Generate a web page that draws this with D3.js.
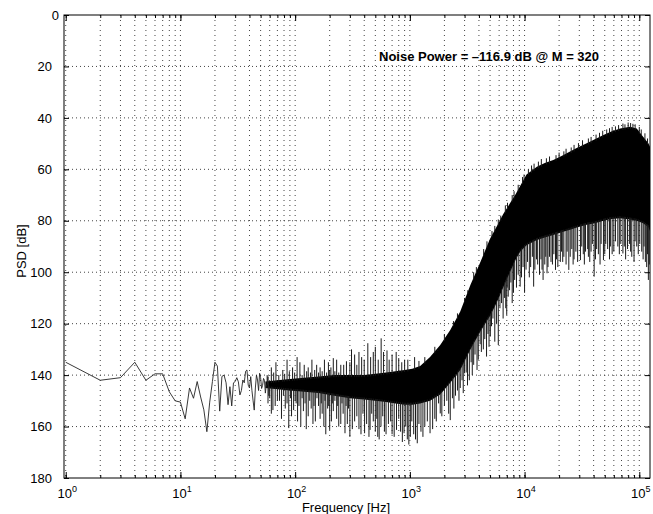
<!DOCTYPE html>
<html>
<head>
<meta charset="utf-8">
<script src="https://d3js.org/d3.v7.min.js"></script>
<style>
  body { margin: 0; background: #fff; }
  text { font-family: "Liberation Sans", Arial, Helvetica, sans-serif; }
</style>
</head>
<body>
<div id="chart-container"></div>
<script>
// y ticks (dB) and x range
var yTicks = [0, 20, 40, 60, 80, 100, 120, 140, 160, 180];
var xDomain = [0.966, 124000];

// low frequency bins, 1 Hz apart
var lowF = [1, 2, 3, 4, 5, 6, 7, 8, 9, 10,
    11, 12, 13, 14, 15, 16, 17, 18, 19, 20,
    21, 22, 23, 24, 25, 26, 27, 28, 29, 30,
    31, 32, 33, 34, 35, 36, 37, 38, 39, 40,
    41, 42, 43, 44, 45, 46, 47, 48, 49, 50,
    51, 52, 53, 54, 55, 56, 57, 58, 59, 60];
var lowPsd = [135, 142, 141, 135, 142, 139.5, 139.5, 146.5, 150, 150.5,
    157, 145, 149, 142.5, 148.5, 153.5, 162, 150.5, 142.5, 135,
    136.5, 154, 140.5, 140, 143, 151.5, 144.5, 152, 143, 142.5,
    141, 142.6, 147.7, 146, 141.9, 143, 138.5, 138, 143.9, 145,
    140.6, 146, 150, 153.6, 145, 140, 141.9, 146, 139.3, 141,
    145.2, 144, 141.3, 142, 147, 143.9, 144, 140.6, 148, 145];

// dense part: upper and lower edge of the black band
var bandF = [55, 70, 90, 120, 160, 220, 300, 400, 500, 620,
    750, 900, 1050, 1230, 1500, 1840, 2250, 2750, 3370, 4120,
    5000, 5700, 6500, 7460, 8400, 9150, 10400, 12800, 15000, 17800,
    21000, 24900, 29000, 34800, 41000, 48700, 57000, 68100, 83200, 95000,
    108000, 120000, 124000];
var bandHi = [142.5, 142, 141.5, 141, 140.5, 140, 140, 140, 139.5, 139,
    138.5, 138, 137.5, 136.5, 133, 128.3, 122.5, 115.3, 105, 96,
    87, 82.3, 77.5, 73.2, 69.5, 66.5, 62, 59, 57.5, 56.4,
    54.8, 53.1, 51.5, 49.9, 48.3, 46.7, 45.3, 44.1, 43.4, 44.1,
    47.3, 49.9, 51.2];
var bandLo = [145, 145.5, 146, 146.5, 147, 148, 149, 149.5, 150, 150.5,
    151, 151.5, 151.5, 151, 150, 147.5, 143, 138, 130, 123,
    117, 112, 106, 100, 95, 92, 89.5, 87.5, 86.5, 85.5,
    84.5, 83.5, 82.5, 81.5, 81, 80, 79.3, 79, 79.5, 80,
    81, 82.5, 84];

// spikes going down out of the band
var dipF = [58, 62, 64, 67, 73, 76, 82, 88, 93, 97,
    102, 105, 112, 118, 125, 130, 138, 143, 150, 160,
    165, 172, 178, 185, 192, 200, 207, 215, 230, 240,
    250, 262, 272, 285, 292, 300, 315, 330, 345, 360,
    375, 390, 403, 420, 440, 450, 465, 480, 500, 515,
    525, 540, 560, 580, 600, 620, 650, 680, 700, 730,
    765, 800, 830, 860, 890, 920, 950, 980, 1010, 1040,
    1080, 1120, 1160, 1200, 1250, 1300, 1350, 1420, 1500, 1580,
    1650, 1700, 1780, 1840, 1900, 2000, 2100, 2180, 2250, 2350,
    2420, 2500, 2600, 2680, 2750, 2850, 2920, 3000, 3100, 3180,
    3300, 3420, 3500, 3600, 3700, 3850, 3950, 4100, 4200, 4370,
    4500, 4660, 4800, 4900, 5030, 5150, 5300, 5500, 5700, 5900,
    6100, 6300, 6500, 6700, 6850, 6990, 7050, 7200, 7400, 7600,
    7800, 8000, 8200, 8500, 8800, 9150, 9400, 9700, 10000, 10300,
    10600, 11000, 11300, 11700, 12000, 12300, 12700, 13000, 13500, 13900,
    14200, 14500, 15000, 15300, 15700, 16000, 16500, 17000, 17500, 18000,
    18600, 19000, 19500, 20500, 21000, 21500, 22000, 23000, 23500, 24300,
    25000, 25800, 26500, 27000, 28000, 29000, 30700, 31500, 32500, 33200,
    34000, 35500, 36000, 37000, 38000, 39000, 40400, 41500, 42500, 44000,
    45500, 46500, 48700, 50000, 51000, 53000, 55000, 56000, 58000, 60000,
    62000, 65000, 67000, 69000, 72000, 74000, 76000, 79000, 82000, 84000,
    86000, 90000, 92000, 95000, 98000, 101000, 105000, 108000, 110000, 113000,
    116000, 118000, 120000, 122000,
    60, 70, 79, 85, 91, 100, 108, 115, 122, 134,
    146, 155, 169, 182, 196, 211, 222, 235, 256, 278];
var dipPsd = [151, 155, 153.6, 152, 150, 157, 153, 160.6, 156, 153.6,
    151, 158, 160, 154, 161, 156, 153, 159, 158, 152,
    157, 155, 160, 163, 153, 161.3, 158, 154, 157, 160,
    159, 155, 162.6, 159, 153, 164, 161, 158, 156, 161,
    163, 155, 162.6, 159, 164, 161.3, 155, 158, 162, 157,
    164, 165, 160, 156, 162, 163, 159, 158, 163, 164,
    161.3, 157, 162, 166, 162.6, 160, 165, 167, 164, 158,
    163, 165, 166.5, 159, 162, 164, 160, 158, 162.6, 161,
    157, 158, 151, 154.9, 156, 152, 150, 155, 157.5, 149,
    153, 148, 146, 150, 145, 142, 147, 139.3, 139, 144,
    142, 135, 140, 136, 132, 138, 134, 128, 131, 130,
    126, 132.8, 124, 129, 125, 121, 118, 127, 120, 128.3,
    114, 112, 118, 110, 114, 116.6, 106, 109.5, 107, 104,
    112, 108, 103, 106, 101, 105.6, 102, 98, 108, 99,
    96, 102, 98, 94, 105.6, 99, 95, 97, 101, 95,
    99, 103, 97, 94, 100.4, 98, 94, 96, 97, 93,
    99.1, 95, 98, 96, 92, 96, 94, 97, 92, 99.1,
    94, 91, 97, 95, 92, 96, 95.3, 90, 93, 97,
    92, 91, 94, 96, 92, 89, 101.7, 95, 91, 93,
    97, 89, 95.3, 93, 89, 91, 95, 90, 93, 92,
    88, 90, 93, 89, 92.7, 90, 95, 91, 89, 92,
    94, 96, 88, 90, 93, 89, 92, 95, 90, 96,
    98, 93, 103, 97,
    149, 150, 148, 151, 149, 150, 152, 149, 151, 150,
    152, 149, 151, 150, 152, 151, 150, 152, 151, 152];

// spikes going up out of the band
var peakF = [62, 68, 78, 85, 95, 104, 110, 120, 130, 140,
    154, 165, 180, 195, 205, 215, 230, 250, 265, 280,
    300, 310, 330, 345, 360, 380, 400, 430, 455, 480,
    500, 530, 562, 590, 632, 660, 700, 760, 800, 850,
    900, 960, 1100, 1200, 1350, 1650, 1750, 2000, 2400, 2600,
    3000, 3200, 3600, 3800, 4400, 4700, 5200, 5500, 5900, 6200,
    6800, 7100, 7800, 8100, 8800, 9600, 9900, 10800, 11500, 12100,
    13200, 14000, 15500, 16500, 18800, 20000, 22000, 23000, 25500, 27000,
    29500, 32000, 36000, 38000, 42000, 45000, 48000, 52000, 55000, 58000,
    62000, 66000, 72000, 75000, 80000, 84000, 88000, 92000, 100000, 104000,
    112000, 118000,
    57, 65, 72, 81, 89, 99, 115, 126, 136, 148,
    160, 172, 188, 200, 222, 240];
var peakPsd = [137, 135, 138, 134, 137, 133, 135, 136, 137, 134,
    136, 137, 134, 135, 137, 133.4, 134, 136, 136, 134.6,
    135, 130, 132, 136, 131, 133, 134, 127.6, 133, 131,
    129, 134, 125.7, 131, 130.4, 134, 132, 131, 133.4, 135,
    134, 134, 133, 134.5, 133, 129, 130.5, 124, 119, 116,
    110, 107, 100, 98, 91, 88, 84, 82, 79.5, 78,
    74, 73, 70, 68.5, 66, 63, 62, 60, 58.5, 57.8,
    57, 56, 55.7, 55, 54.5, 53.5, 53, 52, 51.5, 50.5,
    49.8, 48.7, 48, 47.4, 46.5, 45.8, 45, 44.5, 44, 43.5,
    43.3, 42.8, 42.2, 42.5, 41.8, 42, 42.3, 42.5, 43.5, 44.5,
    46, 48,
    140, 139, 140, 139.5, 138.5, 139, 140, 138.5, 139, 138,
    139, 138.5, 139, 138, 138.5, 139];

var svgWidth = 653;
var svgHeight = 514;
var margin = { top: 15, right: 3, bottom: 36, left: 64 };
var width = svgWidth - margin.left - margin.right;
var height = svgHeight - margin.top - margin.bottom;

var svg = d3.select("#chart-container").append("svg")
    .attr("width", svgWidth)
    .attr("height", svgHeight)
    .append("g")
    .attr("transform", "translate(" + margin.left + "," + margin.top + ")");

var xScale = d3.scaleLog().domain(xDomain).range([0, width]);
var yScale = d3.scaleLinear().domain([0, 180]).range([0, height]);

var xTicks = xScale.ticks();
var xMajor = xTicks.filter(d => Math.abs(Math.log10(d) - Math.round(Math.log10(d))) < 1e-9);

svg.append("clipPath").attr("id", "plot-clip")
    .append("rect").attr("width", width).attr("height", height);

// dotted grid
svg.append("g").selectAll("line")
    .data(xTicks)
    .enter().append("line")
    .attr("x1", d => xScale(d)).attr("x2", d => xScale(d))
    .attr("y1", 0).attr("y2", height)
    .attr("stroke", "#444").attr("stroke-width", 1)
    .attr("stroke-dasharray", "1,4");

svg.append("g").selectAll("line")
    .data(yTicks.slice(1, -1))
    .enter().append("line")
    .attr("x1", 0).attr("x2", width)
    .attr("y1", d => yScale(d)).attr("y2", d => yScale(d))
    .attr("stroke", "#444").attr("stroke-width", 1)
    .attr("stroke-dasharray", "1,3");

var plot = svg.append("g").attr("clip-path", "url(#plot-clip)");

// band
var band = bandF.map((f, i) => ({ f: f, hi: bandHi[i], lo: bandLo[i] }));
plot.append("path")
    .datum(band)
    .attr("fill", "#000")
    .attr("d", d3.area()
        .x(d => xScale(d.f))
        .y0(d => yScale(d.lo))
        .y1(d => yScale(d.hi)));

var loAt = d3.scaleLog().domain(bandF).range(bandLo).clamp(true);
var hiAt = d3.scaleLog().domain(bandF).range(bandHi).clamp(true);

plot.append("g").selectAll("line")
    .data(dipF.map((f, i) => [f, dipPsd[i]]))
    .enter().append("line")
    .attr("x1", d => xScale(d[0])).attr("x2", d => xScale(d[0]))
    .attr("y1", d => yScale(loAt(d[0])) - 2)
    .attr("y2", d => yScale(d[1]))
    .attr("stroke", "#1a1a1a").attr("stroke-width", 1);

plot.append("g").selectAll("line")
    .data(peakF.map((f, i) => [f, peakPsd[i]]))
    .enter().append("line")
    .attr("x1", d => xScale(d[0])).attr("x2", d => xScale(d[0]))
    .attr("y1", d => yScale(hiAt(d[0])) + 2)
    .attr("y2", d => yScale(d[1]))
    .attr("stroke", "#1a1a1a").attr("stroke-width", 1);

// low frequency trace
plot.append("path")
    .datum(lowF.map((f, i) => [f, lowPsd[i]]))
    .attr("fill", "none")
    .attr("stroke", "#222")
    .attr("stroke-width", 0.9)
    .attr("d", d3.line().x(d => xScale(d[0])).y(d => yScale(d[1])));

// axes, ticks pointing inward
function styleAxis(g) {
    g.select(".domain").remove();
    g.selectAll(".tick line").attr("stroke", "#000");
}

svg.append("g")
    .call(d3.axisLeft(yScale).tickValues(yTicks).tickSize(-5).tickPadding(12))
    .call(styleAxis)
    .selectAll("text")
    .style("font-size", "13px")
    .attr("fill", "#000")
    .attr("dx", d => d === 0 ? 7 : 0);

svg.append("g")
    .attr("transform", "translate(" + width + ",0)")
    .call(d3.axisRight(yScale).tickValues(yTicks).tickSize(-5).tickFormat(""))
    .call(styleAxis);

[["bottom", height], ["top", 0]].forEach(function (s) {
    var make = s[0] === "bottom" ? d3.axisBottom : d3.axisTop;
    svg.append("g")
        .attr("transform", "translate(0," + s[1] + ")")
        .call(make(xScale).tickValues(xTicks).tickSize(-3).tickFormat(""))
        .call(styleAxis);
    svg.append("g")
        .attr("transform", "translate(0," + s[1] + ")")
        .call(make(xScale).tickValues(xMajor).tickSize(-6).tickFormat(""))
        .call(styleAxis);
});

var xLab = svg.append("g").selectAll("text")
    .data(xMajor)
    .enter().append("text")
    .attr("x", d => xScale(d) + 1.5)
    .attr("y", height + 20)
    .attr("text-anchor", "middle")
    .style("font-size", "13px");
xLab.append("tspan").text("10");
xLab.append("tspan")
    .attr("dy", -6)
    .style("font-size", "9px")
    .text(d => Math.round(Math.log10(d)));

svg.append("rect")
    .attr("width", width).attr("height", height)
    .attr("fill", "none").attr("stroke", "#000").attr("stroke-width", 1);

svg.append("text")
    .attr("x", 282)
    .attr("y", height + 34)
    .style("text-anchor", "middle")
    .style("font-size", "13px")
    .text("Frequency [Hz]");

svg.append("text")
    .attr("transform", "rotate(-90)")
    .attr("x", -(251 - margin.top))
    .attr("y", 26 - margin.left)
    .style("text-anchor", "middle")
    .style("font-size", "13px")
    .text("PSD [dB]");

svg.append("text")
    .attr("x", 379 - margin.left)
    .attr("y", 61 - margin.top)
    .style("font-size", "13px")
    .style("font-weight", "bold")
    .text("Noise Power = \u2013116.9 dB @ M = 320");
</script>
</body>
</html>
